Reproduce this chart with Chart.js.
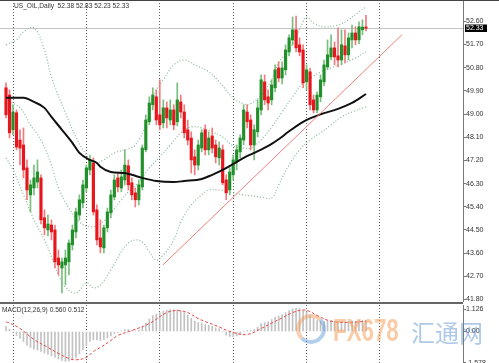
<!DOCTYPE html>
<html>
<head>
<meta charset="utf-8">
<title>US_OIL Daily</title>
<script src="https://cdn.jsdelivr.net/npm/chart.js"></script>
<style>
  body { margin: 0; background: #fff; font-family: "Liberation Sans", Arial, sans-serif; }
  #wrap { position: relative; width: 499px; height: 363px; overflow: hidden; background: #fff; }
  #main { position: absolute; left: 0; top: 0; }
  #macd { position: absolute; left: 0; top: 305px; }
  .topline { position: absolute; left: 0; top: 0; width: 499px; height: 1px; background: #444; }
  .sep { position: absolute; left: 0; top: 302px; width: 463px; height: 2px; background: #666; }
  .lbl { position: absolute; font-size: 6.6px; color: #333; white-space: nowrap; line-height: 8px; }
  .logo { position: absolute; left: 296px; top: 314px; width: 22px; height: 22px; border-radius: 50%;
          border: 4px solid rgba(240,150,80,0.45); border-right-color: rgba(90,150,210,0.45);
          border-bottom-color: rgba(90,150,210,0.45); }
  .fx { position: absolute; left: 333px; top: 313px; font-size: 31px; font-weight: bold; color: rgba(245,160,95,0.55);
        transform: scaleX(0.72); transform-origin: left top; }
  .hui { position: absolute; left: 411px; top: 314px; font-size: 24px; color: rgba(95,150,210,0.5);
         font-family: "Noto Sans CJK SC", sans-serif; }
</style>
</head>
<body>
<div id="wrap">
  <canvas id="main" width="499" height="302"></canvas>
  <canvas id="macd" width="499" height="58"></canvas>
  <div class="topline"></div>
  <div class="sep"></div>
  <div class="lbl" style="left:14px; top:2px;">US_OIL,Daily&nbsp; 52.38 52.83 52.23 52.33</div>
  <div class="lbl" style="left:2px; top:306px;">MACD(12,26,9) 0.560 0.512</div>
  <div class="logo"></div>
  <div class="fx">FX678</div>
  <div class="hui">汇通网</div>
</div>
<script>
// daily candles, oldest first
const opens = [50.02,49.74,48.39,49.05,47.99,47.80,46.91,45.86,46.13,46.36,
  46.52,44.97,44.50,44.69,44.50,43.41,43.02,43.14,43.26,43.92,
  44.42,45.08,45.55,46.13,46.83,47.10,45.28,44.19,43.80,44.58,
  45.16,45.78,46.52,46.13,46.44,46.99,46.33,45.94,45.67,46.17,
  47.61,48.70,49.36,49.67,48.97,48.66,49.24,48.77,49.16,48.70,
  49.47,49.08,48.39,48.07,47.34,47.02,47.68,48.39,47.61,48.15,
  47.80,47.30,47.61,46.44,46.05,46.64,47.14,47.53,47.99,49.08,
  48.77,47.80,48.31,49.16,50.25,49.67,49.55,50.02,50.79,50.40,
  50.72,51.41,51.88,52.27,51.69,51.49,50.25,50.64,49.55,49.16,
  49.67,50.25,50.83,51.22,51.57,51.26,51.10,51.65,51.30,51.88,
  52.15,51.88,52.27,52.38];
const highs = [50.21,49.94,49.36,49.16,48.39,48.46,47.22,46.44,47.02,47.22,
  46.64,45.28,45.08,44.89,44.69,43.72,43.41,43.72,44.11,44.69,
  45.35,45.86,46.44,47.02,47.41,47.30,45.47,44.89,44.69,45.35,
  46.05,46.64,46.75,46.83,47.61,47.22,46.52,46.13,46.44,47.80,
  48.97,49.67,50.02,49.94,50.33,49.55,49.47,49.55,49.36,50.21,
  49.74,49.36,48.77,48.31,47.61,47.99,48.39,48.58,48.31,48.46,
  47.99,47.92,47.80,46.64,46.91,47.41,47.80,48.19,49.36,49.36,
  48.97,48.58,49.55,50.52,50.52,49.94,50.33,50.91,51.03,51.03,
  51.69,52.08,52.77,52.81,51.96,51.69,50.91,50.79,49.74,49.86,
  50.52,51.10,51.88,52.08,51.80,52.35,52.27,52.27,52.15,52.46,
  52.39,52.58,52.66,52.83];
const lows = [48.85,48.07,48.19,47.61,47.02,46.52,45.67,45.20,45.86,46.13,
  44.73,44.31,44.27,44.11,43.02,42.75,42.05,42.36,42.75,43.72,
  44.19,44.89,45.35,45.98,46.64,45.08,43.92,43.61,43.61,44.42,
  44.97,45.67,45.98,45.98,46.25,46.05,45.67,45.39,45.47,46.05,
  47.53,48.58,49.16,48.58,48.39,48.46,48.46,48.58,48.39,48.54,
  48.85,48.07,47.80,46.71,46.64,46.83,47.53,47.41,47.41,47.49,
  47.10,47.02,46.25,45.67,45.86,46.44,46.83,47.30,47.80,48.46,
  47.61,47.22,48.11,48.97,49.36,49.16,49.36,49.86,50.25,50.17,
  50.52,51.26,51.69,51.41,51.26,50.02,49.94,49.16,49.05,49.05,
  49.47,50.09,50.72,51.10,50.91,50.83,50.91,50.99,51.10,51.57,
  51.69,51.73,52.08,52.23];
const closes = [48.97,48.27,49.08,47.72,47.68,46.83,46.05,46.25,46.52,46.75,
  44.89,44.58,44.73,44.42,43.26,43.14,43.26,43.41,43.99,44.50,
  45.20,45.67,46.25,46.91,47.22,45.20,44.11,43.84,44.58,45.20,
  45.86,46.44,46.17,46.56,47.02,46.25,45.86,45.67,46.25,47.68,
  48.77,49.43,49.74,48.77,48.58,49.24,48.85,49.16,48.58,49.55,
  49.08,48.27,47.99,47.22,47.02,47.80,48.27,47.61,48.07,47.68,
  47.34,47.68,46.33,45.94,46.75,47.22,47.61,48.07,49.16,48.70,
  47.80,48.39,49.24,50.33,49.55,49.43,50.13,50.72,50.40,50.79,
  51.49,51.96,52.27,51.57,51.41,50.21,50.72,49.36,49.16,49.74,
  50.33,50.91,51.30,51.57,51.22,51.10,51.69,51.30,51.96,52.15,
  51.88,52.39,52.38,52.33];

// moving average (black), read at these candle indices
const maAt  = [0,5,8,11,13,16,19,21,24,26,27,30,34,36,39,43,48,51,56,59,62,65,68,71,73,76,78,81,85,90,95,99,103];
const maVal = [49.63,49.63,49.47,49.24,48.89,48.39,47.88,47.49,47.22,47.10,46.95,46.75,46.71,46.64,46.52,46.40,46.36,46.40,46.48,46.64,46.83,47.06,47.30,47.49,47.62,47.84,48.02,48.33,48.70,48.99,49.20,49.43,49.78];

// bollinger bands (dotted)
const bbUpAt  = [0,3,5,8,11,13,17,20,23,25,28,31,35,37,40,42,45,48,51,54,58,61,65,68,70,73,76,78,81,83,85,86,88,91,95,98,101,103];
const bbUpVal = [51.69,51.88,52.19,52.35,51.49,50.44,49.05,48.11,47.41,47.10,47.22,47.49,47.65,47.80,48.58,49.67,50.33,50.91,51.10,50.91,50.64,50.25,49.63,49.40,49.40,49.74,50.33,50.99,51.49,51.99,52.58,52.77,52.54,52.39,52.46,52.66,52.97,53.16];
const bbMidAt  = [0,4,7,10,13,15,18,21,24,27,30,33,35,38,41,44,47,50,53,56,59,62,65,68,70,73,76,79,82,85,88,90,93,96,100,103];
const bbMidVal = [49.55,49.24,48.58,47.99,47.02,46.13,45.35,44.81,44.62,44.73,45.16,45.67,45.98,46.36,46.91,47.34,47.80,48.27,48.50,48.46,48.31,48.11,47.76,47.68,47.68,47.99,48.50,49.08,49.67,50.21,50.48,50.64,50.79,50.95,51.18,51.42];
const bbLowAt  = [0,2,5,8,11,13,15,17,20,23,25,27,30,33,35,37,39,41,43,45,48,50,53,56,58,61,65,68,73,76,78,81,84,87,90,93,96,99,103];
const bbLowVal = [47.30,46.83,45.86,44.89,44.11,43.45,42.75,42.28,42.05,42.44,42.25,42.36,42.95,43.65,43.99,44.11,44.03,43.65,43.33,43.53,44.11,44.81,45.47,45.86,46.05,46.05,45.94,45.86,45.78,45.74,46.25,47.02,47.61,47.99,48.27,48.58,48.89,49.08,49.28];

// support trendline (two anchor points)
const trendAt  = [44.9, 113.3];
const trendVal = [43.14, 52.08];

// MACD main (histogram) per candle and signal line
const macdVal = [0.25,0.12,-0.05,-0.2,-0.35,-0.5,-0.68,-0.8,-0.88,-0.93,
  -1.0,-1.08,-1.15,-1.22,-1.3,-1.38,-1.45,-1.5,-1.48,-1.42,
  -1.3,-1.12,-0.92,-0.7,-0.5,-0.42,-0.42,-0.45,-0.4,-0.32,
  -0.22,-0.1,-0.04,0.03,0.1,0.1,0.06,0.04,0.08,0.22,
  0.42,0.62,0.8,0.88,0.95,1.02,1.06,1.1,1.08,1.1,
  1.04,0.95,0.82,0.66,0.52,0.45,0.42,0.35,0.32,0.26,
  0.18,0.14,0.0,-0.18,-0.25,-0.26,-0.22,-0.15,0.0,0.06,
  0.05,0.1,0.22,0.4,0.45,0.5,0.6,0.72,0.78,0.85,
  0.95,1.05,1.14,1.16,1.15,1.05,0.98,0.82,0.65,0.55,
  0.5,0.5,0.52,0.55,0.52,0.48,0.5,0.47,0.5,0.53,
  0.52,0.55,0.56,0.56];
const sigAt  = [0,1,4,8,12,15,18,20,23,25,27,30,32,36,41,46,49,52,55,60,65,69,73,76,79,82,85,87,89,93,98,103];
const sigVal = [0.48,0.43,0.15,-0.4,-0.8,-1.1,-1.35,-1.42,-1.3,-1.0,-0.8,-0.45,-0.2,0.05,0.4,0.95,1.05,0.95,0.65,0.3,-0.05,-0.15,0.15,0.42,0.68,0.95,1.08,1.0,0.8,0.52,0.46,0.512];

// axis ticks
const priceTicks = [41.80,42.70,43.60,44.50,45.40,46.30,47.20,48.10,49.00,49.90,50.80,51.70,52.60];
const macdTicks = [1.126, 0, -1.578];
const macdTickLabels = ['1.126', '0.00', '-1.578'];
const gridAt = [2, 23, 44, 65, 86, 107];

const X_MIN = -1.72, X_MAX = 130.76;
const tickFont = { family: 'Liberation Sans, Arial, sans-serif', size: 7 };

function xAxis() {
  return {
    type: 'linear', min: X_MIN, max: X_MAX, offset: false,
    ticks: { display: false },
    grid: { color: '#5c5c5c', lineWidth: 1, drawTicks: false, offset: false },
    border: { display: false, dash: [1, 2] },
    afterBuildTicks: s => { s.ticks = gridAt.map(v => ({ value: v })); },
    afterFit: s => { s.height = 0; s.paddingLeft = 0; s.paddingRight = 0; }
  };
}
function yAxis(min, max, ticks, fmt) {
  return {
    position: 'right', min: min, max: max,
    ticks: { font: tickFont, color: '#333', padding: 0, callback: fmt },
    grid: { drawOnChartArea: false, drawTicks: true, tickLength: 3, color: '#777' },
    border: { display: true, color: '#777', width: 1 },
    afterBuildTicks: s => { s.ticks = ticks.map(v => ({ value: v })); },
    afterFit: s => { s.width = 36; s.paddingTop = 0; s.paddingBottom = 0; }
  };
}
const pts = (at, val) => at.map((x, k) => ({ x: x, y: val[k] }));

const idx = opens.map((_, i) => i);
const up = idx.map(i => closes[i] >= opens[i]);

const lastPrice = {
  id: 'lastPrice',
  beforeDatasetsDraw(chart) {
    const { ctx, chartArea, scales } = chart;
    const y = Math.round(scales.y.getPixelForValue(closes[closes.length - 1])) + 0.5;
    ctx.save();
    ctx.strokeStyle = '#c4c4c4';
    ctx.lineWidth = 1;
    ctx.beginPath();
    ctx.moveTo(chartArea.left, y);
    ctx.lineTo(chartArea.right, y);
    ctx.stroke();
    ctx.restore();
  },
  afterDraw(chart) {
    const { ctx, scales } = chart;
    const last = closes[closes.length - 1];
    const y = Math.round(scales.y.getPixelForValue(last));
    ctx.save();
    ctx.fillStyle = '#000';
    ctx.fillRect(scales.y.left + 2, y - 3.5, 22, 7.5);
    ctx.fillStyle = '#fff';
    ctx.font = '7px "Liberation Sans", Arial, sans-serif';
    ctx.textBaseline = 'middle';
    ctx.fillText(last.toFixed(2), scales.y.left + 3, y + 0.5);
    ctx.restore();
  }
};

new Chart(document.getElementById('main'), {
  type: 'bar',
  data: {
    datasets: [
      { type: 'line', data: pts(trendAt, trendVal), borderColor: '#f08078', borderWidth: 1, pointRadius: 0, order: 0 },
      { type: 'line', data: pts(maAt, maVal), borderColor: '#111', borderWidth: 2, pointRadius: 0, cubicInterpolationMode: 'monotone', order: 0 },
      { type: 'bar', data: idx.map(i => ({ x: i, y: [opens[i], closes[i]] })),
        backgroundColor: idx.map(i => up[i] ? '#22902a' : '#e8161c'),
        barThickness: 2.5, minBarLength: 1, grouped: false, order: 1 },
      { type: 'bar', data: idx.map(i => ({ x: i, y: [lows[i], highs[i]] })),
        backgroundColor: idx.map(i => up[i] ? '#78bf7c' : '#f07a7e'),
        barThickness: 1, grouped: false, order: 2 },
      { type: 'line', data: pts(bbUpAt, bbUpVal), borderColor: '#86b896', borderWidth: 1.2, borderDash: [1, 2], pointRadius: 0, tension: 0.4, order: 3 },
      { type: 'line', data: pts(bbMidAt, bbMidVal), borderColor: '#86b896', borderWidth: 1.2, borderDash: [1, 2], pointRadius: 0, tension: 0.4, order: 3 },
      { type: 'line', data: pts(bbLowAt, bbLowVal), borderColor: '#86b896', borderWidth: 1.2, borderDash: [1, 2], pointRadius: 0, tension: 0.4, order: 3 }
    ]
  },
  options: {
    responsive: false,
    animation: false,
    events: [],
    layout: { padding: 0 },
    plugins: { legend: { display: false }, tooltip: { enabled: false } },
    scales: {
      x: xAxis(),
      y: yAxis(41.70, 53.43, priceTicks, v => Number(v).toFixed(2))
    }
  },
  plugins: [lastPrice]
});

new Chart(document.getElementById('macd'), {
  type: 'bar',
  data: {
    datasets: [
      { type: 'line', data: pts(sigAt, sigVal), borderColor: '#e84a4a', borderWidth: 1, borderDash: [3, 2], pointRadius: 0, tension: 0.4, order: 0 },
      { type: 'bar', data: idx.map(i => ({ x: i, y: macdVal[i] })), backgroundColor: '#c2c2c2', barThickness: 1, grouped: false, order: 1 }
    ]
  },
  options: {
    responsive: false,
    animation: false,
    events: [],
    layout: { padding: 0 },
    plugins: { legend: { display: false }, tooltip: { enabled: false } },
    scales: {
      x: xAxis(),
      y: yAxis(-1.58, 1.33, macdTicks, (v, i) => macdTickLabels[i])
    }
  }
});
</script>
</body>
</html>
